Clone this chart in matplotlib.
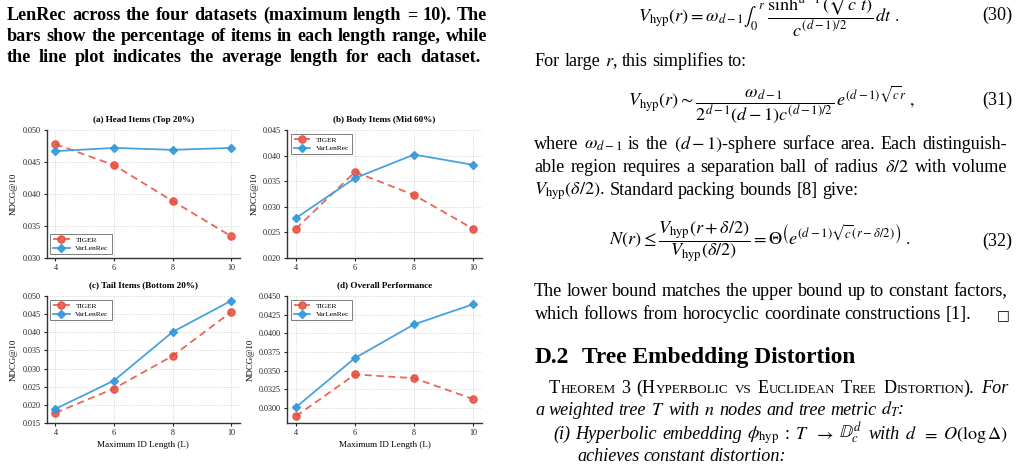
import re
import matplotlib
matplotlib.use("Agg")
import matplotlib.pyplot as plt
from matplotlib.transforms import IdentityTransform
from matplotlib.ticker import MultipleLocator, FormatStrFormatter

# ---------------- data ----------------
lengths = [4, 6, 8, 10]
panel_titles = ["(a) Head Items (Top 20%)", "(b) Body Items (Mid 60%)",
                "(c) Tail Items (Bottom 20%)", "(d) Overall Performance"]
series_names = ["TIGER", "VarLenRec"]
tiger_head = [0.0478, 0.0445, 0.0389, 0.0334]
varlen_head = [0.0467, 0.0472, 0.0469, 0.0472]
tiger_body = [0.0257, 0.0368, 0.0323, 0.0257]
varlen_body = [0.0278, 0.0356, 0.0402, 0.0382]
tiger_tail = [0.0178, 0.0245, 0.0335, 0.0456]
varlen_tail = [0.0189, 0.0267, 0.0401, 0.0487]
tiger_overall = [0.0289, 0.0345, 0.0340, 0.0312]
varlen_overall = [0.0301, 0.0367, 0.0412, 0.0439]
x_label = "Maximum ID Length (L)"
y_label = "NDCG@10"

# ---------------- setup ----------------
W, H, DPI = 1024, 472, 100
plt.rcParams["font.family"] = ["Liberation Serif", "DejaVu Serif", "DejaVu Sans"]
plt.rcParams["mathtext.fontset"] = "stix"

fig = plt.figure(figsize=(W / DPI, H / DPI), dpi=DPI)
fig.patch.set_facecolor("white")
renderer = fig.canvas.get_renderer()
ID = IdentityTransform()

RED = "#e74c3c"
BLUE = "#3498db"


def rect(x0, y0, x1, y1):
    return [x0 / W, 1 - y1 / H, (x1 - x0) / W, (y1 - y0) / H]


panels = [
    (rect(46.7, 130, 240, 258), panel_titles[0], tiger_head, varlen_head, (0.030, 0.050), 0.005, "%.3f", "lower left", False),
    (rect(287, 130, 482, 258), panel_titles[1], tiger_body, varlen_body, (0.020, 0.045), 0.005, "%.3f", "upper left", False),
    (rect(46.7, 296, 240, 423), panel_titles[2], tiger_tail, varlen_tail, (0.015, 0.050), 0.005, "%.3f", "upper left", True),
    (rect(287, 296, 482, 423), panel_titles[3], tiger_overall, varlen_overall, (0.028, 0.045), 0.0025, "%.4f", "upper left", True),
]

for r, title, tg, vl, ylim, step, fmt, loc, show_xlabel in panels:
    ax = fig.add_axes(r)
    ax.plot(lengths, tg, color=RED, ls="--", marker="o", lw=1.3, ms=5.2, alpha=0.85,
            label=series_names[0], dashes=(4, 2.5))
    ax.plot(lengths, vl, color=BLUE, ls="-", marker="D", lw=1.3, ms=4.5, alpha=0.9,
            label=series_names[1])
    ax.set_xticks(lengths)
    ax.set_xlim(3.7, 10.3)
    ax.set_ylim(*ylim)
    ax.yaxis.set_major_locator(MultipleLocator(step))
    ax.yaxis.set_major_formatter(FormatStrFormatter(fmt))
    ax.grid(True, ls=":", lw=0.6, color="#c8c8c8")
    ax.set_axisbelow(True)
    for s in ("top", "right"):
        ax.spines[s].set_visible(False)
    for s in ("left", "bottom"):
        ax.spines[s].set_linewidth(1.0)
        ax.spines[s].set_color("#333333")
    ax.tick_params(labelsize=5.9, length=2.5, width=0.8, pad=2, colors="#222222")
    ax.set_title(title, fontsize=6.6, fontweight="bold", pad=6)
    ax.set_ylabel(y_label, fontsize=6.4, labelpad=3)
    if show_xlabel:
        ax.set_xlabel(x_label, fontsize=6.6, labelpad=3)
    leg = ax.legend(loc=loc, fontsize=5.3, frameon=True, fancybox=False,
                    edgecolor="#444444", handlelength=2.2, borderpad=0.4,
                    labelspacing=0.3)
    leg.get_frame().set_linewidth(0.6)


# ---------------- text helpers ----------------
def measure(s, props):
    t = fig.text(0, 0, s, transform=ID, **props)
    w = t.get_window_extent(renderer).width
    t.remove()
    return w


def fit_size(s, props, target):
    base = props.get("fontsize", 12)
    return base * target / measure(s, props)


def words_of(s, props):
    return [[(w, props)] for w in s.split(" ")]


def smallcaps(s, props, factor=0.72):
    out = []
    size = props["fontsize"]
    for word in s.split(" "):
        pieces = []
        for m in re.finditer(r"[a-z]+|[^a-z]+", word):
            seg = m.group()
            if seg.islower():
                pieces.append((seg.upper(), dict(props, fontsize=size * factor)))
            else:
                pieces.append((seg, props))
        out.append(pieces)
    return out


def draw_line(words, x0, y, x1=None, size=12):
    widths = [[measure(t, p) for t, p in w] for w in words]
    total = sum(sum(ws) for ws in widths)
    n = len(words) - 1
    if x1 is not None and n > 0:
        gap = (x1 - x0 - total) / n
    else:
        gap = size * DPI / 72 * 0.25
    x = x0
    for w, ws in zip(words, widths):
        for (t, p), wd in zip(w, ws):
            fig.text(x, H - y, t, transform=ID, ha="left", va="baseline", **p)
            x += wd
        x += gap


# ---------------- caption (left column) ----------------
cap = dict(fontsize=12, fontweight="bold", color="black")
cap_lines = ["LenRec across the four datasets (maximum length = 10). The",
             "bars show the percentage of items in each length range, while",
             "the line plot indicates the average length for each dataset."]
cap_targets = [470, 470, 473]
cap["fontsize"] = min(fit_size(s, cap, t) for s, t in zip(cap_lines, cap_targets))
draw_line(words_of(cap_lines[0], cap), 7, 20, 487, cap["fontsize"])
draw_line(words_of(cap_lines[1], cap), 7, 41, 487, cap["fontsize"])
draw_line(words_of(cap_lines[2], cap), 7, 62, 480, cap["fontsize"])

# ---------------- right column ----------------
body = dict(fontsize=12, color="black")
body["fontsize"] = fit_size("which follows from horocyclic coordinate constructions [1].", body, 436)
bs = body["fontsize"]
ital = dict(body, fontstyle="italic")
L, R = 534, 1007

eq30 = r"$V_{\mathrm{hyp}}(r) = \omega_{d-1}\int_0^{\,r}\,\, \dfrac{\sinh^{d-1}(\sqrt{c}\,t)}{c^{(d-1)/2}}\,dt\ .$"
eq31 = r"$V_{\mathrm{hyp}}(r) \sim \dfrac{\omega_{d-1}}{2^{d-1}(d-1)c^{(d-1)/2}}\,e^{(d-1)\sqrt{c}r}\ ,$"
eq32 = r"$N(r) \leq \dfrac{V_{\mathrm{hyp}}(r+\delta/2)}{V_{\mathrm{hyp}}(\delta/2)} = \Theta\left(e^{(d-1)\sqrt{c}(r-\delta/2)}\right)\ .$"
fig.text(638, H - 22, eq30, transform=ID, ha="left", va="baseline", fontsize=bs)
fig.text(628, H - 105, eq31, transform=ID, ha="left", va="baseline", fontsize=bs)
fig.text(609, H - 245, eq32, transform=ID, ha="left", va="baseline", fontsize=bs)
for lab, yb in (("(30)", 20), ("(31)", 105), ("(32)", 246)):
    fig.text(1012, H - yb, lab, transform=ID, ha="right", va="baseline", fontsize=bs)

draw_line(words_of(r"For large $r$, this simplifies to:", body), 535, 66, None, bs)
draw_line(words_of(r"where $\omega_{d-1}$ is the $(d-1)$-sphere surface area. Each distinguish-", body), L, 149, R, bs)
draw_line(words_of(r"able region requires a separation ball of radius $\delta/2$ with volume", body), L, 172, R, bs)
draw_line(words_of(r"$V_{\mathrm{hyp}}(\delta/2)$. Standard packing bounds [8] give:", body), L, 195, None, bs)
draw_line(words_of("The lower bound matches the upper bound up to constant factors,", body), L, 296, R, bs)
draw_line(words_of("which follows from horocyclic coordinate constructions [1].", body), 535, 319, None, bs)
fig.text(1010, H - 319, "\u25a1", transform=ID, ha="right", va="baseline",
         fontsize=bs * 0.75, family=["DejaVu Sans"])

head = dict(fontsize=14, fontweight="bold", color="black")
head["fontsize"] = fit_size("Tree Embedding Distortion", head, 274)
fig.text(535, H - 363, "D.2", transform=ID, ha="left", va="baseline", **head)
fig.text(582, H - 363, "Tree Embedding Distortion", transform=ID, ha="left", va="baseline", **head)

thm = smallcaps("Theorem 3 (Hyperbolic vs Euclidean Tree Distortion).", body) + [[("For", ital)]]
draw_line(thm, 549, 393, 1008, bs)
draw_line(words_of(r"a weighted tree $T$ with $n$ nodes and tree metric $d_T$:", ital), 535, 415, None, bs)
item = [[("(i)", ital)], [("Hyperbolic", ital)], [("embedding", ital)],
        [(r"$\phi_{\mathrm{hyp}}$", body)], [(":", body)], [(r"$T$", body)],
        [(r"$\rightarrow$", body)], [(r"$\mathbb{D}_c^d$", body)], [("with", ital)],
        [(r"$d$", body)], [(r"$=$", body)], [(r"$O(\log\Delta)$", body)]]
draw_line(item, 553, 439, 1008, bs)
draw_line(words_of("achieves constant distortion:", ital), 577, 461, None, bs)

fig.savefig("out.png", dpi=DPI, facecolor="white")
